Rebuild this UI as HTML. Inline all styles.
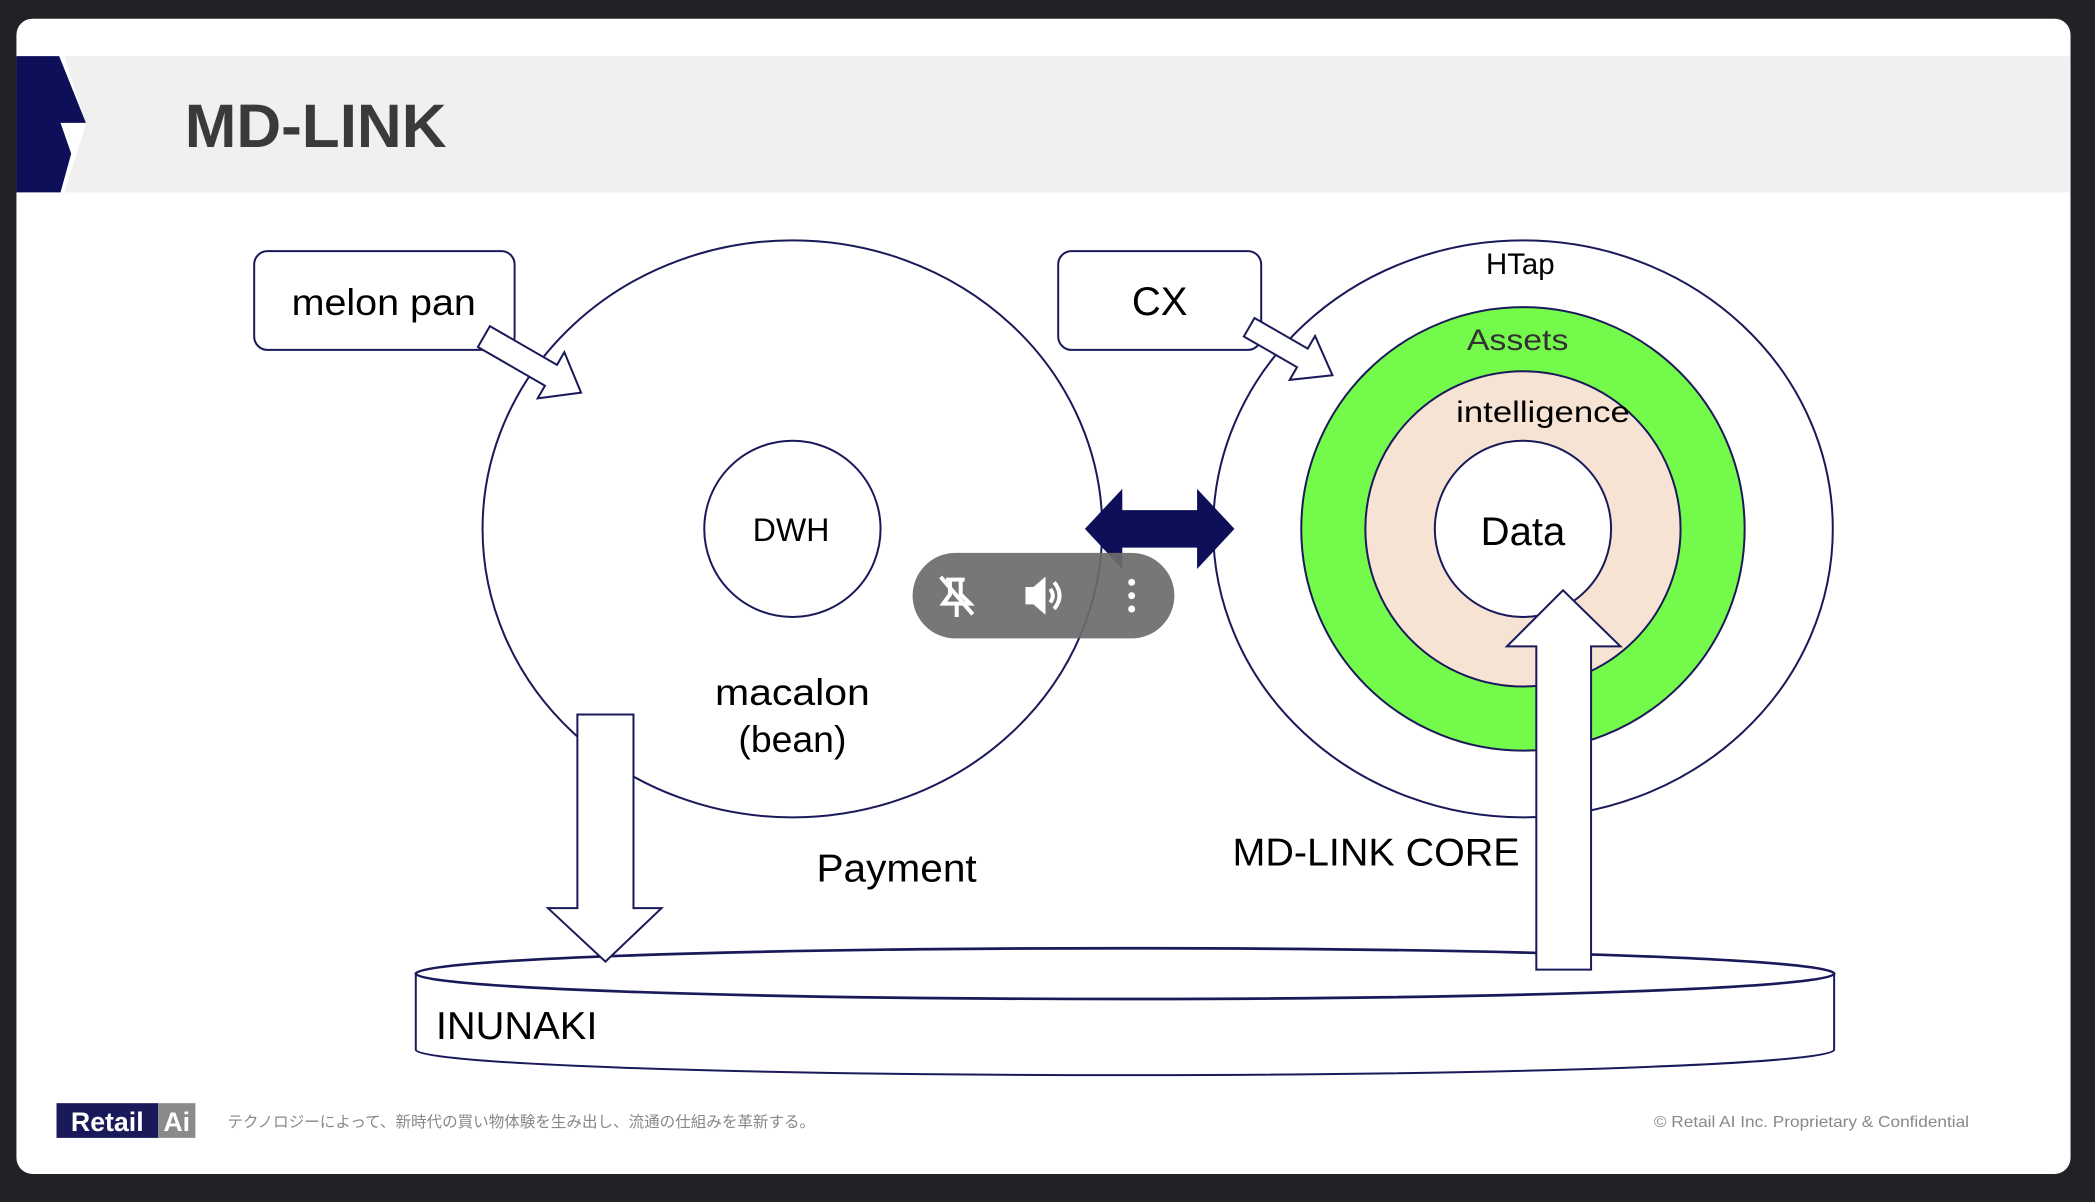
<!DOCTYPE html>
<html><head><meta charset="utf-8"><style>
html,body{margin:0;padding:0;background:#212226;}
svg{display:block;}
text{font-family:"Liberation Sans","DejaVu Sans",sans-serif;}
</style></head><body>
<svg width="2095" height="1202" viewBox="0 0 1568 900" xmlns="http://www.w3.org/2000/svg">
<rect x="0" y="0" width="1568" height="900" fill="#212226"/>
<rect x="12" y="14" width="1538" height="865" rx="12" fill="#ffffff"/>
<polygon points="48,42 1550,42 1550,144 48,144 64,93" fill="#f0f0f0"/>
<polygon points="12,42 44,42 64,92 45,92 53,115 45,144 12,144" fill="#0d1058"/>
<text x="138" y="110" font-size="46" font-weight="bold" fill="#3a3a3a" textLength="196" lengthAdjust="spacingAndGlyphs">MD-LINK</text>

<!-- cylinder -->
<path d="M311,729 L311,786 A531,19 0 0 0 1373,786 L1373,729" fill="#fff" stroke="#1a1a5a" stroke-width="1.5"/>
<ellipse cx="842" cy="729" rx="531" ry="19" fill="#fff" stroke="#1a1a5a" stroke-width="2"/>
<text x="326" y="778" font-size="29" fill="#000" textLength="121" lengthAdjust="spacingAndGlyphs">INUNAKI</text>

<!-- left circle -->
<ellipse cx="593" cy="396" rx="232" ry="216" fill="#fff" stroke="#1a1a5a" stroke-width="1.5"/>
<circle cx="593" cy="396" r="66" fill="#fff" stroke="#1a1a5a" stroke-width="1.5"/>
<text x="592" y="405" font-size="24" text-anchor="middle">DWH</text>
<text x="593" y="528" font-size="28" text-anchor="middle" textLength="116" lengthAdjust="spacingAndGlyphs">macalon</text>
<text x="593" y="563" font-size="28" text-anchor="middle">(bean)</text>

<!-- right circle -->
<ellipse cx="1140" cy="396" rx="232" ry="216" fill="#fff" stroke="#1a1a5a" stroke-width="1.5"/>
<circle cx="1140" cy="396" r="166" fill="#74fa4a" stroke="#1a1a5a" stroke-width="1.5"/>
<circle cx="1140" cy="396" r="118" fill="#f6e3d3" stroke="#1a1a5a" stroke-width="1.5"/>
<circle cx="1140" cy="396" r="66" fill="#fff" stroke="#1a1a5a" stroke-width="1.5"/>
<text x="1138" y="205" font-size="22" text-anchor="middle">HTap</text>
<text x="1136" y="262" font-size="22" text-anchor="middle" fill="#333" textLength="76" lengthAdjust="spacingAndGlyphs">Assets</text>
<text x="1155" y="316" font-size="22" text-anchor="middle" textLength="130" lengthAdjust="spacingAndGlyphs">intelligence</text>
<text x="1140" y="408" font-size="30" text-anchor="middle">Data</text>

<!-- boxes -->
<rect x="190" y="188" width="195" height="74" rx="10" fill="#fff" stroke="#1a1a5a" stroke-width="1.5"/>
<text x="287" y="236" font-size="28" text-anchor="middle" textLength="138" lengthAdjust="spacingAndGlyphs">melon pan</text>
<rect x="792" y="188" width="152" height="74" rx="10" fill="#fff" stroke="#1a1a5a" stroke-width="1.5"/>
<text x="868" y="236" font-size="30" text-anchor="middle">CX</text>

<!-- hollow diagonal arrows -->
<g transform="translate(362,252) rotate(30)">
<polygon points="0,-9 58,-9 58,-20 84,0 58,20 58,9 0,9" fill="#fff" stroke="#1a1a5a" stroke-width="1.5"/>
</g>
<g transform="translate(935,245) rotate(30)">
<polygon points="0,-8 46,-8 46,-19 72,0 46,19 46,8 0,8" fill="#fff" stroke="#1a1a5a" stroke-width="1.5"/>
</g>

<!-- double arrow -->
<polygon points="812,396 840,366 840,382 896,382 896,366 924,396 896,426 896,410 840,410 840,426" fill="#0d1058"/>

<!-- down arrow -->
<polygon points="432,535 474,535 474,680 495,680 453,720 410,680 432,680" fill="#fff" stroke="#1a1a5a" stroke-width="1.5"/>
<!-- up arrow -->
<polygon points="1150,726 1191,726 1191,484 1213,484 1170,442 1128,484 1150,484" fill="#fff" stroke="#1a1a5a" stroke-width="1.5"/>

<text x="671" y="660" font-size="29" text-anchor="middle" textLength="120" lengthAdjust="spacingAndGlyphs">Payment</text>
<text x="1030" y="648" font-size="29" text-anchor="middle" textLength="215" lengthAdjust="spacingAndGlyphs">MD-LINK CORE</text>

<!-- video control pill -->
<rect x="683" y="414" width="196" height="64" rx="32" fill="#6b6b6b" opacity="0.92"/>
<g stroke="#fff" stroke-width="3" fill="none">
<path d="M708,434 L722,434 M711,434 L711,445 L706,452 L726,452 L719,445 L719,434 M716,452 L716,462"/>
<line x1="704" y1="432" x2="728" y2="460"/>
<path d="M769,441 L774,441 L781,435 L781,457 L774,451 L769,451 Z" fill="#fff"/>
<path d="M786,441 Q790,446 786,451 M789,436 Q797,446 789,456"/>
</g>
<circle cx="847" cy="436" r="2.6" fill="#fff"/>
<circle cx="847" cy="446" r="2.6" fill="#fff"/>
<circle cx="847" cy="456" r="2.6" fill="#fff"/>

<!-- footer -->
<rect x="42" y="826" width="76" height="26" fill="#1a1a5a"/>
<rect x="118" y="826" width="28" height="26" fill="#8a8a8a"/>
<text x="80" y="847" font-size="20" font-weight="bold" fill="#fff" text-anchor="middle">Retail</text>
<text x="132" y="847" font-size="20" font-weight="bold" fill="#fff" text-anchor="middle">Ai</text>
<text x="170" y="844" font-size="11.5" fill="#888" font-family="Liberation Sans, Noto Sans CJK JP, sans-serif" textLength="440" lengthAdjust="spacingAndGlyphs">テクノロジーによって、新時代の買い物体験を生み出し、流通の仕組みを革新する。</text>
<text x="1474" y="844" font-size="12" fill="#888" text-anchor="end" textLength="236" lengthAdjust="spacingAndGlyphs">© Retail AI Inc. Proprietary &amp; Confidential</text>
</svg>
</body></html>
